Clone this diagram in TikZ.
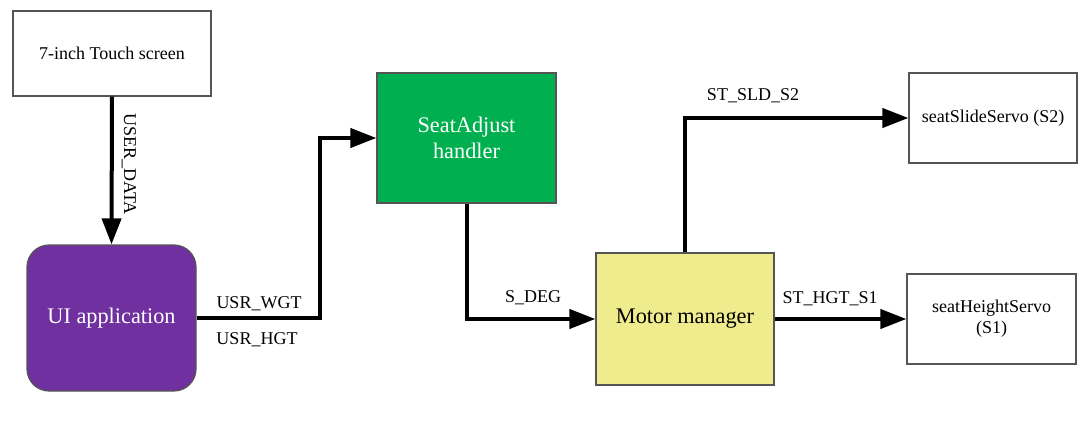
\documentclass[tikz,border=0pt]{standalone}
\usepackage{fontspec}
\setmainfont{Liberation Serif}
\usetikzlibrary{arrows.meta}
\definecolor{uipurple}{HTML}{7030A0}
\definecolor{handlergreen}{HTML}{00B050}
\definecolor{motoryellow}{HTML}{EEEC8D}
\definecolor{boxborder}{HTML}{555555}
\begin{document}
\begin{tikzpicture}[x=1pt,y=-1pt,
  plainbox/.style={draw=boxborder,line width=1.2pt,fill=white,inner sep=2pt,align=center,font=\fontsize{18}{21}\selectfont},
  bigbox/.style={draw=boxborder,line width=1.2pt,inner sep=2pt,align=center,font=\fontsize{22.3}{26}\selectfont},
  conn/.style={line width=4pt,-{Triangle[length=26pt,width=19pt]}},
  lbl/.style={font=\fontsize{18}{21}\selectfont,inner sep=0pt}]
\useasboundingbox (0,0) rectangle (1087,433);
\node[plainbox,minimum width=198pt,minimum height=85pt] (touch) at (112,53.5) {7-inch Touch screen};
\node[bigbox,fill=uipurple,text=white,rounded corners=22pt,minimum width=169pt,minimum height=146pt] (ui) at (111.5,318) {UI application};
\node[bigbox,fill=handlergreen,text=white,minimum width=179pt,minimum height=130pt] (seat) at (466.5,138) {SeatAdjust\\handler};
\node[bigbox,fill=motoryellow,text=black,minimum width=178pt,minimum height=132pt] (motor) at (685,319) {Motor manager};
\node[plainbox,minimum width=168pt,minimum height=90pt] (slide) at (993,118) {seatSlideServo (S2)};
\node[plainbox,minimum width=169pt,minimum height=90pt] (height) at (991.5,319) {seatHeightServo\\(S1)};
\draw[conn] (touch.south) -- (ui.north);
\draw[conn] (ui.east) -- ++(123,0) |- (seat.west);
\draw[conn] (seat.south) |- (motor.west);
\draw[conn] (motor.north) |- (slide.west);
\draw[conn] (motor.east) -- (height.west);
\node[lbl,rotate=-90] (ludata) at (129,164) {USER\_DATA};
\node[lbl] (lwgt) at (259,304) {USR\_WGT};
\node[lbl] (lhgt) at (257,340) {USR\_HGT};
\node[lbl] (ldeg) at (533,298) {S\_DEG};
\node[lbl] (lsld) at (753,96) {ST\_SLD\_S2};
\node[lbl] (lhgts) at (830,299) {ST\_HGT\_S1};
\end{tikzpicture}
\end{document}
